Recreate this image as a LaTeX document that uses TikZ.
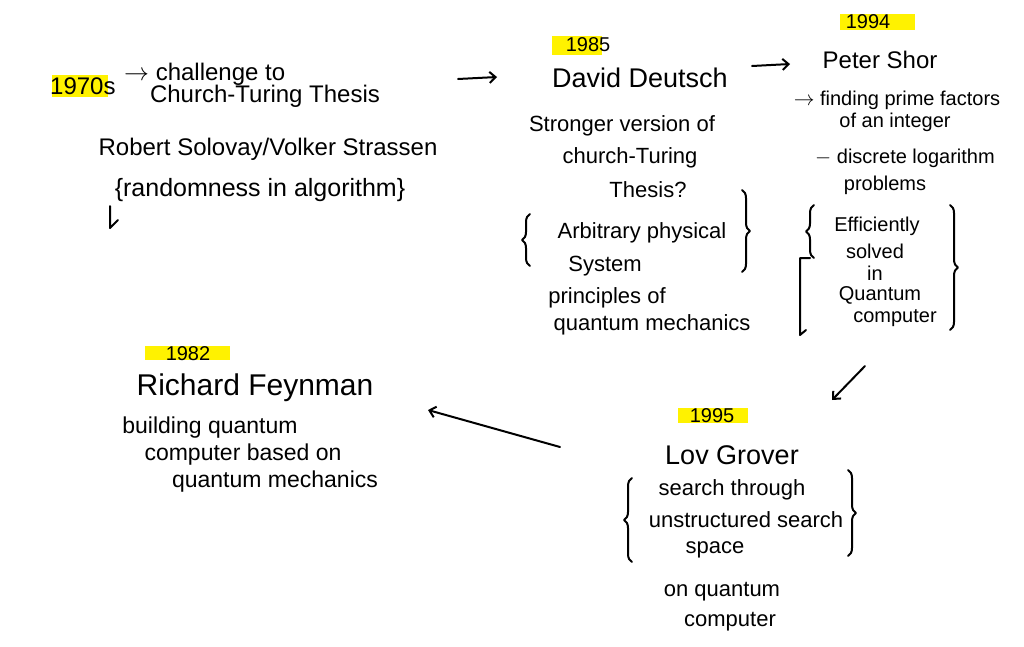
\documentclass[tikz,border=0pt]{standalone}
\usepackage{fontspec}
\setmainfont{Liberation Sans}
\usetikzlibrary{decorations.pathreplacing,arrows.meta}
\definecolor{hl}{HTML}{FFF200}
\begin{document}
\begin{tikzpicture}[x=1pt,y=-1pt,
  t/.style={inner sep=0pt, font=\fontsize{24}{26}\selectfont},
  td/.style={inner sep=0pt, font=\fontsize{22}{24}\selectfont},
  ts/.style={inner sep=0pt, font=\fontsize{20}{22}\selectfont},
  nm/.style={inner sep=0pt, font=\fontsize{27}{29}\selectfont},
  hlbox/.style={fill=hl, draw=none},
  ink/.style={line width=2pt, line cap=round, line join=round},
  arr/.style={ink, -{Straight Barb[length=6pt,width=11pt]}},
  brc/.style={ink, decorate, decoration={brace, amplitude=8pt}}]
\useasboundingbox (0,0) rectangle (1024,646);
\fill[white] (0,0) rectangle (1024,646);

% highlights
\fill[hlbox] (52,75) rectangle (108,97);
\fill[hlbox] (552,36) rectangle (602,55);
\fill[hlbox] (840,14) rectangle (915,30);
\fill[hlbox] (678,408) rectangle (748,423);
\fill[hlbox] (145,346) rectangle (230,360);

% 1970s group
\node[t, anchor=west] (y70) at (50,86) {1970s};
\node[t, anchor=west] (chal) at (124,74) {$\to$ challenge to};
\node[t] (ctt) at (265,96) {Church-Turing Thesis};
\node[t] (rsvs) at (268,149) {Robert Solovay/Volker Strassen};
\node[t, font=\fontsize{25}{27}\selectfont] (rand) at (260,190) {\{randomness in algorithm\}};
\draw[ink] (110,206) -- (110,228) -- (118,220);

% Deutsch group
\node[ts] (y85) at (588,45) {1985};
\node[nm] (dd) at (640,78) {David Deutsch};
\node[td] (dd1) at (622,126) {Stronger version of};
\node[td] (dd2) at (630,158) {church-Turing};
\node[td] (dd3) at (648,190) {Thesis?};
\node[td] (dd4) at (642,233) {Arbitrary physical};
\node[td] (dd5) at (605,266) {System};
\node[td] (dd6) at (607,298) {principles of};
\node[td] (dd7) at (652,325) {quantum mechanics};
\draw[brc] (530,266) -- (530,214);
\draw[brc] (742,190) -- (742,272);

% Shor group
\node[ts] (y94) at (868,22) {1994};
\node[t] (ps) at (880,60) {Peter Shor};
\node[ts] (ps1) at (897,100) {$\to$ finding prime factors};
\node[ts] (ps2) at (895,122) {of an integer};
\node[ts] (ps3) at (905,158) {$-$ discrete logarithm};
\node[ts] (ps4) at (885,185) {problems};
\node[ts] (ps5) at (877,226) {Efficiently};
\node[ts] (ps6) at (875,251) {solved};
\node[ts] (ps7) at (875,273) {in};
\node[ts] (ps8) at (880,295) {Quantum};
\node[ts] (ps9) at (895,318) {computer};
\draw[brc] (814,258) -- (814,205);
\draw[ink] (810,258) -- (800,258) -- (800,335) -- (806,330);
\draw[brc] (950,205) -- (950,330);

% Grover group
\node[ts] (y95) at (712,416) {1995};
\node[nm] (lg) at (732,455) {Lov Grover};
\node[td] (lg1) at (732,490) {search through};
\node[td] (lg2) at (746,520) {unstructured search};
\node[td] (lg3) at (715,550) {space};
\node[td] (lg4) at (722,592) {on quantum};
\node[td] (lg5) at (730,622) {computer};
\draw[brc] (632,562) -- (632,478);
\draw[brc] (848,470) -- (848,556);

% Feynman group
\node[ts] (y82) at (188,354) {1982};
\node[nm, font=\fontsize{30}{32}\selectfont] (rf) at (255,388) {Richard Feynman};
\node[t, font=\fontsize{23}{25}\selectfont] (rf1) at (210,428) {building quantum};
\node[t, font=\fontsize{23}{25}\selectfont] (rf2) at (243,455) {computer based on};
\node[t, font=\fontsize{23}{25}\selectfont] (rf3) at (275,482) {quantum mechanics};

% connectors
\coordinate (a1s) at (458,79);
\coordinate (a1e) at (497,77);
\coordinate (a2s) at (752,66);
\coordinate (a2e) at (790,64);
\coordinate (a3s) at (865,366);
\coordinate (a3e) at (832,400);
\coordinate (a4s) at (560,447);
\coordinate (a4e) at (428,410);
\draw[arr] (a1s) -- (a1e);
\draw[arr] (a2s) -- (a2e);
\draw[arr] (a3s) -- (a3e);
\draw[arr] (a4s) -- (a4e);
\end{tikzpicture}
\end{document}
